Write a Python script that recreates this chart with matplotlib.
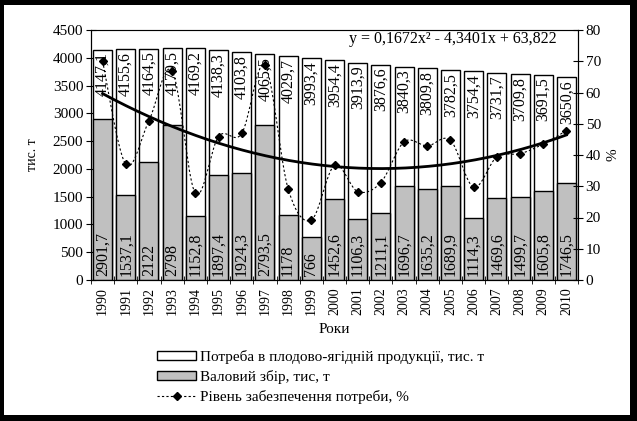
import matplotlib
matplotlib.use('Agg')
import matplotlib.pyplot as plt
from matplotlib.patches import Rectangle, Patch
from matplotlib.lines import Line2D
import numpy as np

plt.rcParams['font.family'] = ['Liberation Serif', 'DejaVu Serif']

years = [str(y) for y in range(1990, 2011)]
need = [4147.1, 4155.6, 4164.5, 4179.5, 4169.2, 4138.3, 4103.8, 4065.5, 4029.7, 3993.4,
        3954.4, 3913.9, 3876.6, 3840.3, 3809.8, 3782.5, 3754.4, 3731.7, 3709.8, 3691.5, 3650.6]
gross = [2901.7, 1537.1, 2122, 2798, 1152.8, 1897.4, 1924.3, 2793.5, 1178, 766,
         1452.6, 1106.3, 1211.1, 1696.7, 1635.2, 1689.9, 1114.3, 1469.6, 1499.7, 1605.8, 1746.5]
level = [70.0, 37.0, 51.0, 66.9, 27.7, 45.9, 46.9, 68.7, 29.2, 19.2,
         36.7, 28.3, 31.2, 44.2, 42.9, 44.7, 29.7, 39.4, 40.4, 43.5, 47.8]
# polynomial trendline shown on the chart
trend_coef = [0.1672, -4.3401, 63.822]
trend_text = 'y = 0,1672x² - 4,3401x + 63,822'


def fmt(v):
    if float(v).is_integer():
        return str(int(v))
    return ('%.1f' % v).replace('.', ',')


def smooth(xs, ys, n=20):
    # bezier smoothing like the spreadsheet "smoothed line"
    p = np.column_stack([xs, ys]).astype(float)
    out = [p[0]]
    for i in range(len(p) - 1):
        p0 = p[i - 1] if i > 0 else p[i]
        p3 = p[i + 2] if i + 2 < len(p) else p[i + 1]
        c1 = p[i] + (p[i + 1] - p0) / 6.
        c2 = p[i + 1] - (p3 - p[i]) / 6.
        t = np.linspace(0, 1, n)[1:, None]
        seg = (1 - t) ** 3 * p[i] + 3 * (1 - t) ** 2 * t * c1 + 3 * (1 - t) * t ** 2 * c2 + t ** 3 * p[i + 1]
        out.extend(seg)
    out = np.array(out)
    return out[:, 0], out[:, 1]


fig = plt.figure(figsize=(6.37, 4.21), dpi=100, facecolor='black')
fig.patches.append(Rectangle((4 / 637, 6 / 421), 626 / 637, 410 / 421,
                             transform=fig.transFigure, facecolor='white', edgecolor='none', zorder=-10))

ax = fig.add_axes([91 / 637, 1 - 280 / 421, 487 / 637, 250 / 421])
ax.set_facecolor('none')
x = np.arange(len(years))
w = 0.82
ax.bar(x, need, w, color='white', edgecolor='black', linewidth=1, zorder=2)
ax.bar(x, gross, w, color='#C0C0C0', edgecolor='black', linewidth=1, zorder=3)

for i in range(len(years)):
    ax.annotate(fmt(need[i]), (x[i], need[i]), xytext=(0, -2), textcoords='offset points',
                rotation=90, ha='center', va='top', fontsize=11.5, zorder=5)
    ax.annotate(fmt(gross[i]), (x[i], 0), xytext=(0, 3), textcoords='offset points',
                rotation=90, ha='center', va='bottom', fontsize=11.5, zorder=5)

ax.set_xlim(-0.5, len(years) - 0.5)
ax.set_ylim(0, 4500)
ax.set_yticks(range(0, 4501, 500))
ax.set_xticks(x)
ax.set_xticklabels(years, rotation=90, fontsize=10)
ax.set_xticks(np.arange(-0.5, len(years), 1), minor=True)
ax.tick_params(axis='x', which='major', length=0, pad=5)
ax.tick_params(axis='x', which='minor', direction='inout', length=6)
ax.tick_params(axis='y', direction='inout', length=7, labelsize=11, pad=2)
ax.spines['top'].set_color('#808080')
ax.set_ylabel('тис. т', fontsize=10, labelpad=10)
ax.set_xlabel('Роки', fontsize=11, labelpad=6)

ax2 = ax.twinx()
ax2.set_ylim(0, 80)
ax2.set_yticks(range(0, 81, 10))
ax2.tick_params(axis='y', direction='inout', length=7, labelsize=11, pad=2)
ax2.set_ylabel('%', fontsize=11, rotation=90, labelpad=4)

sx, sy = smooth(x, level)
ax2.plot(sx, sy, color='black', linestyle=(0, (2, 2)), linewidth=0.8, zorder=4)
ax2.plot(x, level, linestyle='none', marker='D', markersize=4, color='black', zorder=5)

tx = np.linspace(0, len(years) - 1, 200)
ax2.plot(tx, np.polyval(trend_coef, tx + 1), color='black', linewidth=2, zorder=6)
ax2.text(0.743, 0.965, trend_text, transform=ax2.transAxes, ha='center', va='center', fontsize=11.5)

handles = [Patch(facecolor='white', edgecolor='black', linewidth=1),
           Patch(facecolor='#C0C0C0', edgecolor='black', linewidth=1),
           Line2D([], [], color='black', linestyle=(0, (2, 2)), linewidth=0.8, marker='D', markersize=4)]
labels = ['Потреба в плодово-ягідній продукції, тис. т',
          'Валовий збір, тис, т',
          'Рівень забезпечення потреби, %']
fig.legend(handles, labels, loc='upper left', bbox_to_anchor=(149 / 637, 1 - 342 / 421),
           frameon=False, fontsize=11, handlelength=2.6, handleheight=0.55, handletextpad=0.25,
           labelspacing=0.4, borderpad=0, numpoints=1)

fig.savefig('out.png', dpi=100, facecolor='black')
